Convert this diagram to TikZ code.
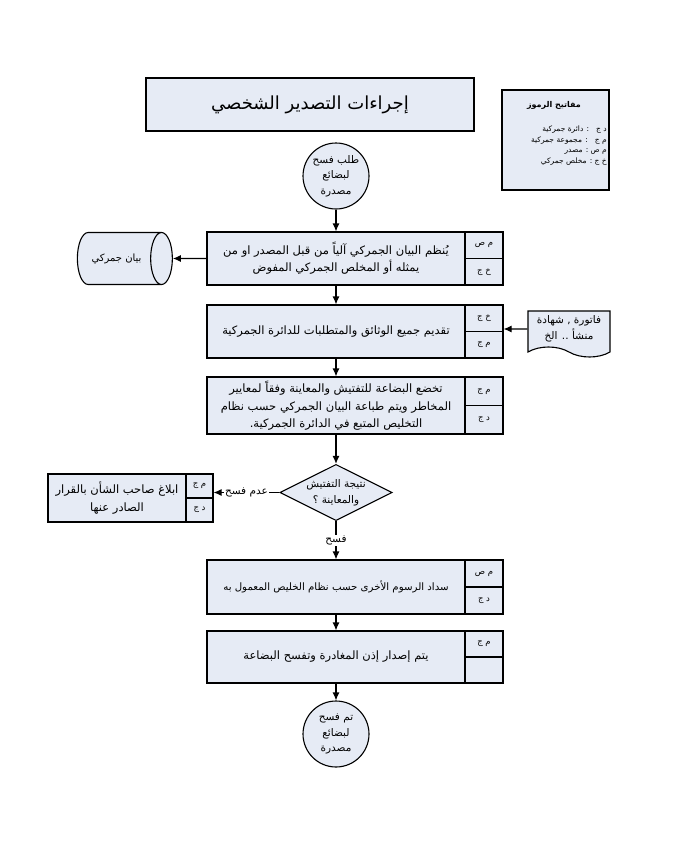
\documentclass[tikz,border=0pt]{standalone}
\usepackage{fontspec}
\newfontfamily\arabicfont[Script=Arabic]{DejaVu Sans}
\TeXXeTstate=1
\usetikzlibrary{arrows.meta,shapes.geometric,shapes.symbols}
\definecolor{boxfill}{HTML}{E6EBF5}
\newcommand{\rl}[1]{\beginR #1\endR}
\tikzstyle{block}=[rectangle, draw, fill=boxfill, line width=1.1pt, inner sep=1pt, align=center, font=\arabicfont\fontsize{11.5}{17.5}\selectfont]
\tikzstyle{procbox}=[block, minimum width=258pt, minimum height=53pt]
\tikzstyle{codebox}=[block, minimum width=38pt, minimum height=26.5pt, font=\arabicfont\fontsize{8.5}{10}\selectfont]
\tikzstyle{term}=[circle, draw, fill=boxfill, line width=1.1pt, minimum size=66pt, inner sep=0pt, align=center, font=\arabicfont\fontsize{10.5}{15.5}\selectfont]
\tikzstyle{flowlabel}=[fill=white, inner sep=1pt, font=\arabicfont\fontsize{10.5}{12}\selectfont]
\newcommand{\procbox}{\node[procbox]}
\newcommand{\codebox}{\node[codebox]}

\begin{document}
\begin{tikzpicture}[x=1pt, y=-1pt, every edge/.style={ draw, line width=1.1pt, -{Latex[length=8pt,width=7pt]} } ]
\useasboundingbox (0,0) rectangle (683,846);
\node[block, minimum width=328pt, minimum height=53pt, font=\arabicfont\fontsize{18}{20}\selectfont] (title) at (310,104.5) {\rl{إجراءات التصدير الشخصي}};
% key box
\draw[fill=boxfill, line width=1.1pt] (502,90) rectangle (609,190);
\node[font=\arabicfont\bfseries\fontsize{8}{9}\selectfont] (keyt) at (554,105) {\rl{مفاتيح الرموز}};
\node[anchor=north east, align=right, inner sep=0pt, font=\arabicfont\fontsize{7.5}{10.5}\selectfont] (keyl) at (607,126)
  {\rl{د ج \ \ : دائرة جمركية}\\\rl{م ج \ \ : مجموعة جمركية}\\\rl{م ص : مصدر}\\\rl{خ ج : مخلص جمركي}};
\node[term] (0) at (336,176) {\rl{طلب فسح}\\\rl{لبضائع}\\\rl{مصدرة}};
\procbox (1) at (336,258.5) {\rl{يُنظم البيان الجمركي آلياً من قبل  المصدر او من}\\\rl{يمثله أو المخلص الجمركي المفوض}};
\codebox (1a) at (484,245.25) {\rl{م ص}};
\codebox (1b) at (484,271.75) {\rl{خ ج}};
\procbox (2) at (336,331.5) {\rl{تقديم جميع الوثائق والمتطلبات للدائرة الجمركية}};
\codebox (2a) at (484,318.25) {\rl{خ ج}};
\codebox (2b) at (484,344.75) {\rl{م ج}};
\procbox (3) at (336,405.5) [minimum height=57pt] {\rl{تخضع البضاعة للتفتيش والمعاينة وفقاً لمعايير}\\\rl{المخاطر ويتم طباعة البيان الجمركي حسب نظام}\\\rl{التخليص المتبع في الدائرة الجمركية.}};
\codebox (3a) at (484,391.25) [minimum height=28.5pt] {\rl{م ج}};
\codebox (3b) at (484,419.75) [minimum height=28.5pt] {\rl{د ج}};
\node[diamond, draw, fill=boxfill, line width=1.1pt, inner sep=0pt, aspect=2, minimum width=112pt, minimum height=55pt, align=center, font=\arabicfont\fontsize{10.5}{16}\selectfont] (4) at (336,492.5)
  {\rl{نتيجة التفتيش}\\\rl{والمعاينة ؟}};
\node[block, minimum width=138pt, minimum height=48pt] (5) at (117,498) {\rl{ابلاغ صاحب الشأن بالقرار}\\\rl{الصادر عنها}};
\codebox (5a) at (199.5,486) [minimum width=27pt, minimum height=24pt] {\rl{م ج}};
\codebox (5b) at (199.5,510) [minimum width=27pt, minimum height=24pt] {\rl{د ج}};
\procbox (6) at (336,587) [minimum height=54pt, font=\arabicfont\fontsize{10.2}{12}\selectfont] {\rl{سداد الرسوم الأخرى حسب نظام الخليص المعمول به}};
\codebox (6a) at (484,573.5) [minimum height=27pt] {\rl{م ص}};
\codebox (6b) at (484,600.5) [minimum height=27pt] {\rl{د ج}};
\procbox (7) at (336,657) [minimum height=52pt] {\rl{يتم إصدار إذن المغادرة وتفسح البضاعة}};
\codebox (7a) at (484,644) [minimum height=26pt] {\rl{م ج}};
\codebox (7b) at (484,670) [minimum height=26pt] {};
\node[term] (8) at (336,734) {\rl{تم فسح}\\\rl{لبضائع}\\\rl{مصدرة}};
\node[cylinder, draw, fill=boxfill, line width=1.1pt, aspect=1.3, minimum height=95pt, minimum width=52pt, font=\arabicfont\fontsize{10}{12}\selectfont] (9) at (116.5,258.5) {\rl{بيان جمركي}};
\node[tape, draw, fill=boxfill, line width=1.1pt, inner sep=1pt, tape bend top=none, tape bend bottom=out and in, tape bend height=10pt, minimum width=82pt, minimum height=46pt, align=center, font=\arabicfont\fontsize{10.5}{16}\selectfont] (10) at (569,329) {\rl{فاتورة , شهادة}\\\rl{منشأ .. الخ}};
\path
(0) edge (1)
(1) edge (2)
(2) edge (3)
(3) edge (4)
(4) edge node[flowlabel] {\rl{فسح}} (6)
(6) edge (7)
(7) edge (8)
(1) edge (9)
(10) edge (10.west -| 2a.east)
(4) edge node[flowlabel] {\rl{عدم فسح}} (4.west -| 5a.east)
;
\end{tikzpicture}
\end{document}
